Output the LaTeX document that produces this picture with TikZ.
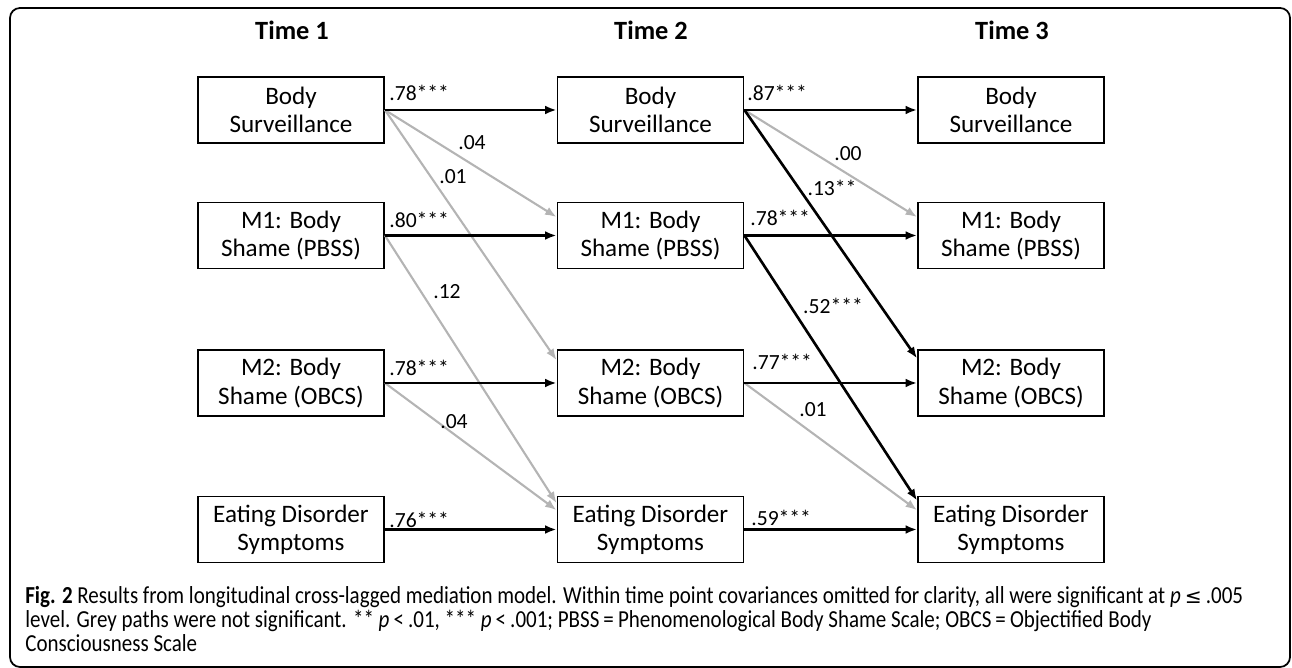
\documentclass[tikz,border=0pt]{standalone}
\usepackage{fontspec}
\setmainfont{Carlito}
\newfontfamily\capfont[FakeStretch=0.86]{Carlito}
\newfontfamily\symfont{DejaVu Sans}
\usetikzlibrary{arrows.meta}
\definecolor{nsgrey}{RGB}{180,180,180}

\begin{document}
\begin{tikzpicture}[x=0.02cm,y=-0.02cm,
  box/.style={draw,line width=1.1pt,minimum width=3.72cm,minimum height=1.32cm,inner sep=0pt,align=center,font=\fontsize{14.3}{16}\selectfont},
  hdr/.style={font=\fontsize{15}{18}\selectfont\bfseries},
  coef/.style={font=\fontsize{12.3}{14}\selectfont,inner sep=0pt},
  capline/.style={anchor=base west,inner sep=0pt,font=\capfont\fontsize{13.9}{13.6}\selectfont},
  sigpath/.style={line width=1.5pt,-{Latex[length=6.5pt,width=5pt]}},
  nspath/.style={line width=1.2pt,nsgrey,-{Latex[length=6.5pt,width=5pt]}}]
\useasboundingbox (0,0) rectangle (1292,668);
\draw[line width=1pt,rounded corners=0.2cm] (10,8) rectangle (1290,667);
\node[hdr] (time1) at (292,30) {Time 1};
\node[hdr] (time2) at (651,30) {Time 2};
\node[hdr] (time3) at (1012,30) {Time 3};
\node[box] (bs1) at (291,110) {Body\\Surveillance};
\node[box] (m1a) at (291,235.5) {M1: Body\\Shame (PBSS)};
\node[box] (m2a) at (291,383) {M2: Body\\Shame (OBCS)};
\node[box] (ed1) at (291,529.5) {Eating Disorder\\Symptoms};
\node[box] (bs2) at (650.5,110) {Body\\Surveillance};
\node[box] (m1b) at (650.5,235.5) {M1: Body\\Shame (PBSS)};
\node[box] (m2b) at (650.5,383) {M2: Body\\Shame (OBCS)};
\node[box] (ed2) at (650.5,529.5) {Eating Disorder\\Symptoms};
\node[box] (bs3) at (1011,110) {Body\\Surveillance};
\node[box] (m1c) at (1011,235.5) {M1: Body\\Shame (PBSS)};
\node[box] (m2c) at (1011,383) {M2: Body\\Shame (OBCS)};
\node[box] (ed3) at (1011,529.5) {Eating Disorder\\Symptoms};
\draw[nspath] (bs1.east) -- ([yshift=10.5pt]m1b.west);
\draw[nspath] (bs1.east) -- ([yshift=13pt]m2b.west);
\draw[nspath] (m1a.east) -- ([yshift=15pt]ed2.west);
\draw[nspath] (m2a.east) -- ([yshift=11pt]ed2.west);
\draw[nspath] (bs2.east) -- ([yshift=10.5pt]m1c.west);
\draw[nspath] (m2b.east) -- ([yshift=11pt]ed3.west);
\draw[sigpath] (bs1) -- (bs2);
\draw[sigpath] (m1a) -- (m1b);
\draw[sigpath] (m2a) -- (m2b);
\draw[sigpath] (ed1) -- (ed2);
\draw[sigpath] (bs2) -- (bs3);
\draw[sigpath] (m1b) -- (m1c);
\draw[sigpath] (m2b) -- (m2c);
\draw[sigpath] (ed2) -- (ed3);
\draw[sigpath] (bs2.east) -- ([yshift=14pt]m2c.west);
\draw[sigpath] (m1b.east) -- ([yshift=16.5pt]ed3.west);
\node[coef,anchor=west] (c1) at (389,93) {.78***};
\node[coef,anchor=west] (c2) at (389,220) {.80***};
\node[coef,anchor=west] (c3) at (389,368) {.78***};
\node[coef,anchor=west] (c4) at (389,520) {.76***};
\node[coef,anchor=west] (c5) at (747,93) {.87***};
\node[coef,anchor=west] (c6) at (750,218) {.78***};
\node[coef,anchor=west] (c7) at (752,362) {.77***};
\node[coef,anchor=west] (c8) at (751,518) {.59***};
\node[coef] (c9) at (472,143) {.04};
\node[coef] (c10) at (453,177) {.01};
\node[coef] (c11) at (447,292) {.12};
\node[coef] (c12) at (454,422) {.04};
\node[coef] (c13) at (848,154) {.00};
\node[coef] (c14) at (832,188) {.13**};
\node[coef] (c15) at (833,306) {.52***};
\node[coef] (c16) at (813,410) {.01};
\node[capline] (cap1) at (25,604) {\textbf{Fig. 2} Results from longitudinal cross-lagged mediation model. Within time point covariances omitted for clarity, all were significant at \textit{p}\,{\symfont\fontsize{11.5}{13}\selectfont ≤}\,.005};
\node[capline] (cap2) at (25,628) {level. Grey paths were not significant. ** \textit{p}\,<\,.01, *** \textit{p}\,<\,.001; PBSS\,=\,Phenomenological Body Shame Scale; OBCS\,=\,Objectified Body};
\node[capline] (cap3) at (25,652) {Consciousness Scale};
\end{tikzpicture}
\end{document}
